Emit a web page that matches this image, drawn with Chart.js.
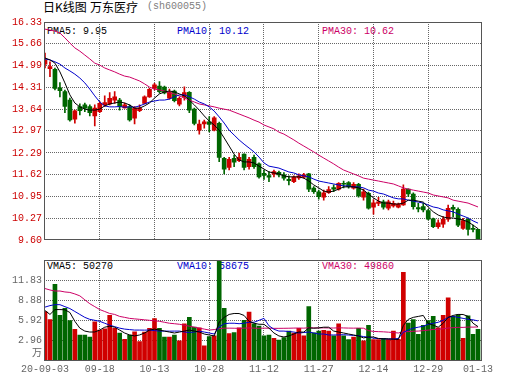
<!DOCTYPE html>
<html>
<head>
<meta charset="utf-8">
<script src="https://cdn.jsdelivr.net/npm/chart.js@4.4.1/dist/chart.umd.min.js"></script>
<style>
html,body{margin:0;padding:0;background:#fff;}
#wrap{position:relative;width:530px;height:391px;overflow:hidden;background:#fff;}
canvas{position:absolute;left:0;z-index:2;}
.t{position:absolute;z-index:1;font-family:"Liberation Mono","DejaVu Sans Mono",monospace;font-size:10px;line-height:12px;white-space:pre;}
.cjk{font-family:"Noto Sans CJK SC",sans-serif;font-size:12px;line-height:14px;}
</style>
</head>
<body>
<div id="wrap">
<div class="t cjk" style="left:43px;top:0px;color:#000">日K线图</div>
<div class="t cjk" style="left:90px;top:0px;color:#000">万东医疗</div>
<div class="t" style="left:147px;top:1px;color:#808080">(sh600055)</div>
<div class="t" style="left:47px;top:26px;color:#000">PMA5: 9.95</div>
<div class="t" style="left:177px;top:26px;color:#0000cc">PMA10: 10.12</div>
<div class="t" style="left:322px;top:26px;color:#cc0066">PMA30: 10.62</div>
<div class="t" style="left:47px;top:261px;color:#000">VMA5: 50270</div>
<div class="t" style="left:177px;top:261px;color:#0000cc">VMA10: 58675</div>
<div class="t" style="left:322px;top:261px;color:#cc0066">VMA30: 49860</div>
<canvas id="main" width="530" height="250" style="top:0;width:530px;height:250px"></canvas>
<canvas id="vol" width="530" height="141" style="top:250px;width:530px;height:141px"></canvas>
</div>
<script>
const dates = [
 '09-03','09-04','09-07','09-08','09-09','09-10','09-11','09-14','09-15','09-16',
 '09-17','09-18','09-21','09-22','09-23','09-24','09-25','09-28','09-29','09-30',
 '10-09','10-12','10-13','10-14','10-15','10-16','10-19','10-20','10-21','10-22',
 '10-23','10-26','10-27','10-28','10-29','10-30','11-02','11-03','11-04','11-05',
 '11-06','11-09','11-10','11-11','11-12','11-13','11-16','11-17','11-18','11-19',
 '11-20','11-23','11-24','11-25','11-26','11-27','11-30','12-01','12-02','12-03',
 '12-04','12-07','12-08','12-09','12-10','12-11','12-14','12-15','12-16','12-17',
 '12-18','12-21','12-22','12-23','12-24','12-25','12-28','12-29','12-30','12-31',
 '01-04','01-05','01-06','01-07','01-08','01-11','01-12','01-13'];

const open = [
 15.03,14.89,14.87,14.30,14.18,13.92,13.33,13.72,13.77,13.72,
 13.43,13.56,13.77,13.80,13.92,13.92,13.68,13.72,13.36,13.59,
 13.82,14.02,14.28,14.35,14.32,13.98,14.20,13.79,14.01,14.16,
 13.64,12.99,13.18,13.25,12.99,13.20,12.12,11.84,12.12,12.05,
 12.25,11.86,12.15,11.95,11.66,11.59,11.63,11.69,11.61,11.47,
 11.40,11.52,11.54,11.64,11.20,11.09,10.92,11.06,11.22,11.17,
 11.35,11.37,11.20,11.32,10.92,11.04,10.61,10.73,10.78,10.58,
 10.65,10.61,10.68,11.17,11.02,10.60,10.63,10.51,10.25,10.01,
 10.09,10.24,10.61,10.55,9.96,10.24,9.96,9.93];
const high = [
 15.37,15.10,14.91,14.46,14.23,13.98,13.61,13.80,13.83,13.77,
 13.77,13.87,14.05,14.15,14.18,13.97,13.83,13.77,13.72,13.77,
 14.05,14.28,14.44,14.49,14.35,14.26,14.23,14.02,14.33,14.18,
 13.67,13.30,13.30,13.41,13.41,13.24,12.15,12.15,12.22,12.28,
 12.26,12.15,12.22,11.98,11.76,11.71,11.76,11.73,11.68,11.58,
 11.58,11.64,11.66,11.66,11.25,11.14,11.14,11.25,11.30,11.37,
 11.42,11.40,11.37,11.35,11.17,11.08,10.85,10.92,10.83,10.83,
 10.80,10.74,11.30,11.18,11.06,10.73,10.73,10.55,10.28,10.22,
 10.32,10.68,10.68,10.59,10.27,10.28,10.06,9.94];
const low = [
 14.91,14.64,14.23,14.02,13.53,13.27,13.21,13.46,13.56,13.43,
 13.12,13.53,13.72,13.77,13.82,13.61,13.67,13.27,13.18,13.56,
 13.80,14.00,14.23,14.13,14.11,13.95,13.86,13.74,13.92,13.53,
 13.15,12.87,13.05,12.94,12.97,12.02,11.64,11.76,11.86,12.02,
 11.76,11.79,11.81,11.51,11.47,11.40,11.55,11.55,11.45,11.30,
 11.37,11.47,11.51,11.09,11.04,10.86,10.83,11.04,11.09,11.14,
 11.21,11.20,11.17,10.92,10.83,10.55,10.40,10.66,10.55,10.53,
 10.61,10.59,10.67,10.94,10.55,10.47,10.47,10.22,9.98,9.96,
 9.99,10.17,10.32,10.01,9.93,9.75,9.85,9.60];
const close = [
 15.16,14.95,14.28,14.21,13.72,13.31,13.59,13.59,13.67,13.53,
 13.67,13.82,13.84,13.97,14.02,13.72,13.77,13.31,13.67,13.67,
 14.02,14.25,14.39,14.18,14.14,14.17,13.90,13.97,14.15,13.61,
 13.20,13.18,13.25,13.17,13.37,12.15,11.79,12.09,12.00,12.15,
 11.84,12.09,11.86,11.55,11.59,11.54,11.71,11.61,11.51,11.43,
 11.54,11.58,11.61,11.17,11.09,10.94,11.06,11.16,11.17,11.35,
 11.32,11.25,11.32,10.96,11.09,10.58,10.75,10.78,10.61,10.78,
 10.73,10.71,11.17,11.02,10.63,10.56,10.53,10.24,10.01,10.13,
 10.24,10.58,10.55,10.06,10.20,9.93,9.93,9.60];

const ma5 = [
 15.22,15.16,15.06,14.79,14.45,14.08,13.83,13.71,13.64,13.61,
 13.61,13.64,13.74,13.80,13.83,13.86,13.83,13.77,13.67,13.67,
 13.74,13.83,13.98,14.11,14.17,14.20,14.17,14.11,14.05,13.92,
 13.77,13.61,13.43,13.27,13.15,12.99,12.75,12.50,12.25,12.07,
 12.01,12.01,11.98,11.88,11.79,11.70,11.67,11.64,11.58,11.55,
 11.55,11.55,11.51,11.42,11.30,11.21,11.11,11.08,11.11,11.17,
 11.24,11.24,11.24,11.21,11.14,11.02,10.90,10.80,10.74,10.74,
 10.71,10.71,10.74,10.83,10.83,10.80,10.77,10.62,10.47,10.37,
 10.31,10.28,10.28,10.25,10.22,10.16,10.06,9.95];
const ma10 = [
 15.19,15.16,15.10,15.03,14.91,14.82,14.72,14.60,14.45,14.26,
 14.05,13.86,13.74,13.71,13.71,13.72,13.70,13.71,13.70,13.74,
 13.80,13.86,13.89,13.92,13.92,13.95,14.02,14.08,14.08,14.02,
 13.95,13.86,13.80,13.71,13.58,13.40,13.21,12.99,12.84,12.69,
 12.56,12.44,12.32,12.16,11.98,11.88,11.85,11.82,11.76,11.70,
 11.67,11.61,11.58,11.55,11.48,11.42,11.39,11.36,11.33,11.30,
 11.27,11.27,11.24,11.24,11.21,11.14,11.11,11.05,11.02,10.96,
 10.90,10.87,10.87,10.83,10.80,10.77,10.74,10.68,10.62,10.59,
 10.53,10.50,10.47,10.40,10.34,10.28,10.19,10.12];
const ma30 = [
 16.11,16.08,16.05,15.99,15.84,15.68,15.53,15.43,15.31,15.19,
 15.06,15.00,14.91,14.85,14.79,14.72,14.66,14.63,14.57,14.51,
 14.42,14.32,14.26,14.23,14.20,14.14,14.11,14.05,13.98,13.92,
 13.86,13.80,13.77,13.74,13.71,13.67,13.64,13.61,13.55,13.49,
 13.43,13.37,13.30,13.24,13.15,13.09,13.03,12.93,12.87,12.78,
 12.69,12.59,12.50,12.41,12.32,12.22,12.13,12.04,11.95,11.85,
 11.76,11.70,11.64,11.58,11.51,11.48,11.45,11.42,11.39,11.36,
 11.33,11.27,11.21,11.17,11.14,11.11,11.08,11.05,10.99,10.96,
 10.93,10.90,10.83,10.80,10.77,10.74,10.68,10.62];

// volume in 万 (10k lots)
const volume = [
 7.25,6.06,11.21,6.67,7.72,5.91,4.63,3.81,3.81,3.52,
 5.72,4.53,4.71,6.67,4.77,4.10,3.19,3.81,4.28,2.85,
 4.24,4.77,6.20,4.77,3.52,3.52,3.81,2.95,5.43,6.39,
 4.95,4.86,2.23,3.57,3.67,14.79,7.72,4.00,4.15,4.86,
 5.96,7.15,5.43,5.10,3.67,3.81,3.33,3.05,3.43,4.38,
 4.10,4.77,3.67,7.96,4.14,4.38,4.48,4.38,3.67,5.43,
 3.67,3.14,3.52,4.77,2.95,5.24,3.14,3.14,3.33,3.19,
 4.38,3.19,12.97,5.57,6.06,3.91,5.24,5.91,6.53,4.86,
 6.67,9.25,6.53,6.77,3.33,6.63,3.91,4.63];
const vma5 = [
 7.39,6.82,7.53,7.53,7.50,7.10,5.81,4.81,4.38,4.24,
 4.25,4.53,4.95,5.10,4.95,4.53,4.10,3.81,3.67,3.81,
 4.10,4.53,4.67,4.53,4.38,4.24,4.10,4.24,4.38,4.53,
 4.38,4.24,3.95,3.81,3.67,5.70,6.39,6.82,6.96,6.95,
 6.67,5.81,5.53,5.38,5.37,4.81,4.10,3.67,3.52,3.67,
 3.95,4.24,4.23,4.85,4.80,4.85,4.95,4.95,4.38,4.24,
 4.10,3.95,3.81,3.67,3.38,3.52,3.51,3.30,3.25,3.25,
 3.20,3.15,5.20,6.10,6.39,6.53,6.67,5.50,5.24,4.95,
 5.53,6.39,6.67,6.82,6.81,6.53,5.53,5.03];
const vma10 = [
 7.89,8.11,8.25,8.25,7.96,7.68,7.25,6.82,6.39,6.10,
 5.96,5.81,5.53,5.24,5.03,4.81,4.67,4.60,4.53,4.53,
 4.52,4.53,4.45,4.38,4.38,4.37,4.38,4.38,4.24,4.17,
 4.24,4.38,4.24,4.10,3.95,5.00,5.45,5.53,5.53,5.46,
 5.53,5.67,5.67,5.96,6.24,5.15,4.65,4.38,4.38,4.31,
 4.24,4.10,4.17,4.24,4.10,3.95,3.95,3.81,3.81,3.82,
 3.85,3.80,3.75,3.70,3.58,3.48,3.35,3.28,3.25,3.22,
 3.22,3.30,4.20,4.55,4.81,4.95,5.10,5.38,5.53,5.67,
 5.96,6.39,6.53,6.39,6.24,6.10,6.03,5.87];
const vma30 = [
 10.61,10.40,10.25,10.25,10.11,10.04,9.82,9.54,8.96,8.39,
 7.96,7.53,7.25,6.96,6.82,6.53,6.39,6.24,6.17,6.10,
 6.03,5.96,5.89,5.81,5.67,5.53,5.46,5.38,5.24,5.10,
 4.95,4.81,4.67,4.53,4.60,4.74,4.81,4.81,4.80,4.78,
 4.81,4.84,4.81,4.79,4.81,4.80,4.78,4.78,4.79,4.80,
 4.82,4.83,4.81,4.86,4.85,4.84,4.85,4.84,4.83,4.86,
 4.84,4.82,4.81,4.82,4.80,4.45,4.33,4.30,4.27,4.22,
 4.17,4.10,4.29,4.30,4.36,4.38,4.45,4.52,4.62,4.65,
 4.72,4.83,4.88,4.93,4.92,4.97,4.96,4.99];

const priceTicks = ['9.60','10.27','10.95','11.62','12.29','12.97','13.64','14.31','14.99','15.66','16.33'];
const volTicks = [0, 2.96, 5.92, 8.88, 11.83, 14.79];
const volTickLabels = ['万','2.96','5.92','8.88','11.83',''];
const dateTicks = ['09-03','09-18','10-13','10-28','11-12','11-27','12-14','12-29','01-13'];
const dateTickLabels = ['20-09-03','09-18','10-13','10-28','11-12','11-27','12-14','12-29','01-13'];

const UP = '#d00000', DN = '#006600';
const C_MA5 = '#000000', C_MA10 = '#0000cc', C_MA30 = '#cc0066';
const GRID = '#666666';
const MONO = '"Liberation Mono","DejaVu Sans Mono","Noto Sans CJK SC",monospace';

const idx = dates.map((d, i) => i);
const candleColor = idx.map(i => close[i] >= open[i] ? UP : DN);
const dateTickPos = dateTicks.map(d => dates.indexOf(d));
const firstPos = dateTickPos[0], lastPos = dateTickPos[dateTickPos.length - 1];

const framePlugin = {
  id: 'frame',
  afterDraw(chart) {
    const { ctx, chartArea: a } = chart;
    const L = Math.round(a.left), T = Math.round(a.top), R = Math.round(a.right), B = Math.round(a.bottom);
    ctx.save();
    ctx.strokeStyle = '#555';
    ctx.lineWidth = 1;
    ctx.setLineDash([]);
    ctx.strokeRect(L + 0.5, T + 0.5, R - L - 1, B - T - 1);
    ctx.restore();
  }
};

function xScale(showLabels) {
  return {
    type: 'linear', min: -0.2, max: 87.7, offset: false,
    afterBuildTicks: s => { s.ticks = dateTickPos.map(v => ({ value: v })); },
    afterFit: s => { s.height = showLabels ? 30 : 0; },
    grid: {
      offset: false, drawTicks: false, lineWidth: 1,
      color: c => (c.tick && (c.tick.value === firstPos || c.tick.value === lastPos)) ? 'rgba(0,0,0,0)' : GRID
    },
    border: { display: false, dash: [1, 1] },
    ticks: {
      display: showLabels, autoSkip: false, maxRotation: 0, minRotation: 0, padding: 2,
      color: '#666', font: { family: MONO, size: 10 },
      callback: (v, i) => dateTickLabels[i]
    }
  };
}

function line(data, color) {
  return { type: 'line', data: idx.map(i => ({ x: i, y: data[i] })), borderColor: color,
    borderWidth: 1, pointRadius: 0, tension: 0, fill: false, order: 0 };
}

const common = {
  responsive: false, animation: false, devicePixelRatio: 1, events: [],
  plugins: { legend: { display: false }, tooltip: { enabled: false } }
};

new Chart(document.getElementById('main'), {
  type: 'bar',
  data: {
    datasets: [
      line(ma5, C_MA5), line(ma10, C_MA10), line(ma30, C_MA30),
      { type: 'bar', data: idx.map(i => ({ x: i, y: [open[i], close[i]] })), backgroundColor: candleColor,
        borderWidth: 0, barThickness: 4, minBarLength: 1, grouped: false, order: 1 },
      { type: 'bar', data: idx.map(i => ({ x: i, y: [low[i], high[i]] })), backgroundColor: candleColor,
        borderWidth: 0, barThickness: 1, minBarLength: 1, grouped: false, order: 2 }
    ]
  },
  options: Object.assign({}, common, {
    layout: { padding: { left: 0, right: 48.5, top: 22, bottom: 10 } },
    scales: {
      x: xScale(false),
      y: {
        type: 'linear', min: 9.60, max: 16.33,
        afterBuildTicks: s => { s.ticks = priceTicks.map(t => ({ value: parseFloat(t) })); },
        afterFit: s => { s.width = 44; },
        grid: { drawTicks: false, color: c => (c.index === 0 || c.index === priceTicks.length - 1) ? 'rgba(0,0,0,0)' : GRID },
        border: { display: false, dash: [1, 1] },
        ticks: { autoSkip: false, padding: 2, color: '#cc0000', font: { family: MONO, size: 10 },
          callback: (v, i) => priceTicks[i] }
      }
    }
  }),
  plugins: [framePlugin]
});

new Chart(document.getElementById('vol'), {
  type: 'bar',
  data: {
    datasets: [
      line(vma5, C_MA5), line(vma10, C_MA10), line(vma30, C_MA30),
      { type: 'bar', data: idx.map(i => ({ x: i, y: volume[i] })), backgroundColor: candleColor,
        borderWidth: 0, barThickness: 4, grouped: false, order: 1 }
    ]
  },
  options: Object.assign({}, common, {
    layout: { padding: { left: 0, right: 48.5, top: 7, bottom: 0 } },
    scales: {
      x: xScale(true),
      y: {
        type: 'linear', min: 0, max: 14.79,
        afterBuildTicks: s => { s.ticks = volTicks.map(v => ({ value: v })); },
        afterFit: s => { s.width = 44; },
        grid: { drawTicks: false, color: c => (c.index === 0 || c.index === volTicks.length - 1) ? 'rgba(0,0,0,0)' : GRID },
        border: { display: false, dash: [1, 1] },
        ticks: { autoSkip: false, padding: 2, color: '#666', font: { family: MONO, size: 10, lineHeight: 1.6 },
          callback: (v, i) => i === 0 ? [volTickLabels[0], ''] : volTickLabels[i] }
      }
    }
  }),
  plugins: [framePlugin]
});
</script>
</body>
</html>
